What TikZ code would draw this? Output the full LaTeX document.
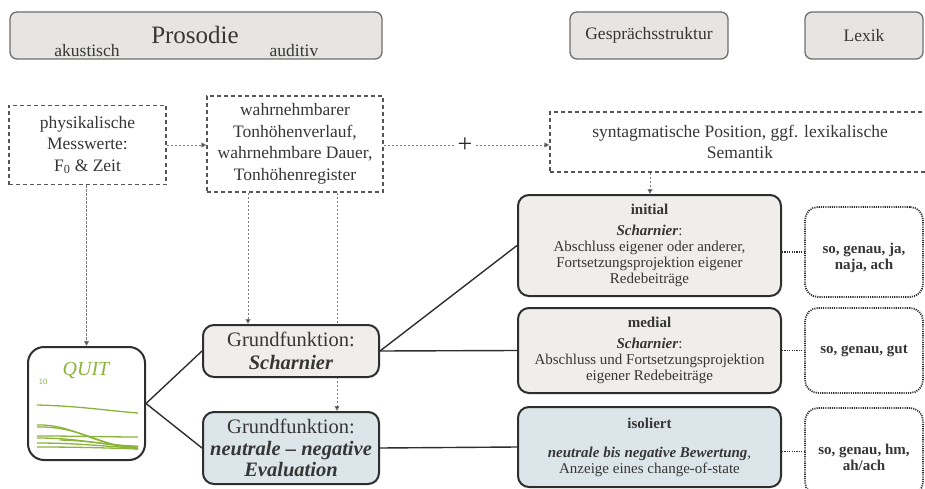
\documentclass[tikz,border=0pt]{standalone}
\usepackage{fontspec}
\setmainfont{Liberation Serif}
\usetikzlibrary{arrows.meta,backgrounds}

\definecolor{txt}{HTML}{363636}
\definecolor{topfill}{HTML}{E6E5E3}
\definecolor{topline}{HTML}{6E6E6E}
\definecolor{dashcol}{HTML}{555555}
\definecolor{arrowcol}{HTML}{7C7C7C}
\definecolor{boxline}{HTML}{2E2E2E}
\definecolor{grayfill}{HTML}{EFEEEB}
\definecolor{bluefill}{HTML}{DCE6EA}
\definecolor{qgreen}{HTML}{8CB43C}

\newcommand\fsTitle{\fontsize{25}{28}\selectfont}
\newcommand\fsMid{\fontsize{17.5}{21.5}\selectfont}
\newcommand\fsFunc{\fontsize{20.5}{21.5}\selectfont}
\newcommand\fsSmall{\fontsize{15}{16}\selectfont}

\tikzset{
  topbox/.style={draw=topline, fill=topfill, line width=1.3, rounded corners=7,
    inner sep=0, text=txt, font=\fsMid},
  dashbox/.style={draw=dashcol, line width=1.1, dash pattern=on 4 off 3,
    inner sep=0, align=center, text=txt, font=\fsMid},
  conn/.style={draw=arrowcol, line width=0.9, dash pattern=on 2.5 off 1.5,
    -{Triangle[length=5,width=5,fill=boxline]}},
  link/.style={draw=boxline, line width=1.4},
  funcbox/.style={draw=boxline, line width=2, rounded corners=11, inner sep=0,
    align=center, text=txt},
  lexbox/.style={draw=boxline, line width=1.8, dash pattern=on 1.1 off 1.1,
    rounded corners=13, inner sep=0, text=txt},
  lextext/.style={align=center, text=txt, font=\bfseries\fsSmall},
  dotlink/.style={draw=boxline, line width=1.6, dash pattern=on 1.2 off 1.2},
  curve/.style={draw=qgreen, line width=1.3},
}

\begin{document}
\begin{tikzpicture}[x=1pt,y=-1pt]
\useasboundingbox (0,0) rectangle (925,489);
\clip (0,0) rectangle (925,489);

% header bars
\node[topbox, minimum width=372, minimum height=47] (prosodie) at (196,35.5) {};
\node[font=\fsTitle, text=txt] (prosodietitle) at (195,35) {Prosodie};
\node[font=\fsMid, text=txt] (akustisch) at (87,51) {akustisch};
\node[font=\fsMid, text=txt] (auditiv) at (294,51) {auditiv};
\node[topbox, minimum width=158, minimum height=47] (gespraech) at (649,35.5) {Gesprächsstruktur};
\node[topbox, minimum width=118, minimum height=47] (lexik) at (864,35.5) {Lexik};

% input boxes
\node[dashbox, minimum width=157, minimum height=79] (messwerte) at (87.5,145)
  {physikalische\\Messwerte:\\F\textsubscript{0} \& Zeit};
\node[dashbox, minimum width=176, minimum height=96] (wahrnehmung) at (295,144)
  {wahrnehmbarer\\Tonhöhenverlauf,\\wahrnehmbare Dauer,\\Tonhöhenregister};
\node[font=\fontsize{26}{26}\selectfont, text=black!85] (plus) at (465,145) {+};
\node[dashbox, minimum width=380, minimum height=60, font=\fontsize{17.5}{21}\selectfont] (syntagma) at (740,142)
  {syntagmatische Position, ggf. lexikalische\\Semantik};

% QUIT panel
\node[draw=boxline, line width=2, rounded corners=16, fill=white,
  minimum width=117, minimum height=113, inner sep=0] (quit) at (86.5,403.5) {};
\node[font=\fontsize{20}{20}\selectfont\itshape, text=qgreen] (quitlabel) at (86,370) {QUIT};
\node[font=\sffamily\fontsize{8}{8}\selectfont, text=qgreen] (quittick) at (43,382) {10};
\draw[curve] (37,405) .. controls (80,406) and (110,411) .. (138,413);
\draw[curve] (37,425) .. controls (75,424) and (95,447) .. (138,447);
\draw[curve] (37,427) .. controls (80,426) and (100,446) .. (138,449);
\draw[curve] (37,436) .. controls (80,436) and (110,437) .. (138,437);
\draw[curve] (37,438) .. controls (80,438) and (100,445) .. (138,447);
\draw[curve] (37,443) .. controls (80,443) and (110,447) .. (138,448);
\draw[curve] (37,447) .. controls (80,447) and (110,448) .. (138,449);
\draw[curve] (60,440) .. controls (95,441) and (115,446) .. (138,446);

% basic functions
\node[funcbox, fill=grayfill, minimum width=176, minimum height=52, font=\fsFunc] (scharnier) at (291,351)
  {Grundfunktion:\\[1pt]\textbf{\textit{Scharnier}}};
\node[funcbox, fill=bluefill, minimum width=176, minimum height=72, font=\fsFunc] (evaluation) at (291,448)
  {Grundfunktion:\\\textbf{\textit{neutrale -- negative}}\\\textbf{\textit{Evaluation}}};

% positional variants
\node[funcbox, fill=grayfill, minimum width=263, minimum height=101, font=\fsSmall] (initial) at (649.5,245.5)
  {\textbf{initial}\\[5pt]\textbf{\textit{Scharnier}}:\\Abschluss eigener oder anderer,\\Fortsetzungsprojektion eigener\\Redebeiträge};
\node[funcbox, fill=grayfill, minimum width=263, minimum height=85, font=\fsSmall] (medial) at (649.5,350.5)
  {\textbf{medial}\\[5pt]\textbf{\textit{Scharnier}}:\\Abschluss und Fortsetzungsprojektion\\eigener Redebeiträge};
\node[funcbox, fill=bluefill, minimum width=263, minimum height=80, font=\fsSmall] (isoliert) at (649.5,447)
  {\textbf{isoliert}\\[13pt]\textbf{\textit{neutrale bis negative Bewertung}},\\Anzeige eines change-of-state};

% lexical items
\node[lexbox, minimum width=118, minimum height=90] (lexA) at (864,252) {};
\node[lextext] (lexAtext) at (864,258) {so, genau, ja,\\naja, ach};
\node[lexbox, minimum width=118, minimum height=85] (lexB) at (864,350.5) {};
\node[lextext] (lexBtext) at (864,350.5) {so, genau, gut};
\node[lexbox, minimum width=118, minimum height=87] (lexC) at (864,451.5) {};
\node[lextext] (lexCtext) at (864,457) {so, genau, hm,\\ah/ach};

\coordinate (colA) at (248,0);
\coordinate (colB) at (337,0);
\coordinate (colC) at (650,0);

\begin{scope}[on background layer]
  \draw[conn] (messwerte.east) -- (messwerte.east -| wahrnehmung.west);
  \draw[conn, -] (wahrnehmung.east |- plus) -- (plus.west);
  \draw[conn] (plus.east) -- (plus -| syntagma.west);
  \draw[conn] (messwerte.south -| quit.north) -- (quit.north);
  \draw[conn] (colA |- wahrnehmung.south) -- (colA |- scharnier.north);
  \draw[conn] (colB |- wahrnehmung.south) -- (colB |- evaluation.north);
  \draw[conn] (colC |- syntagma.south) -- (colC |- initial.north);

  \draw[link] (quit.east) -- (scharnier.west);
  \draw[link] (quit.east) -- (evaluation.west);
  \draw[link] (scharnier.east) -- (initial.west);
  \draw[link] (scharnier.east) -- (medial.west);
  \draw[link] (evaluation.east) -- (isoliert.west);

  \draw[dotlink] (lexA.west -| initial.east) -- (lexA.west);
  \draw[dotlink] (lexB.west -| medial.east) -- (lexB.west);
  \draw[dotlink] (lexC.west -| isoliert.east) -- (lexC.west);
\end{scope}
\end{tikzpicture}
\end{document}
